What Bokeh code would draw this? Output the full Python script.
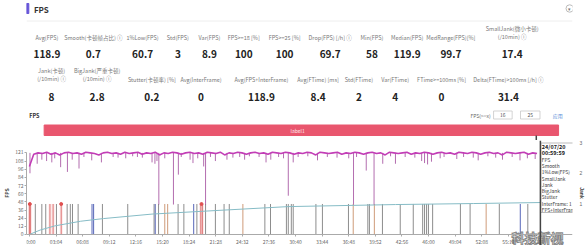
from bokeh.plotting import figure
from bokeh.models import Range1d, LinearAxis, FixedTicker, Span
from bokeh.layouts import column
from bokeh.embed import file_html
from bokeh.resources import INLINE
from bokeh.core.properties import value

FONT = "Noto Sans CJK SC"

# ---------------- data ----------------
row1_labels = ["Avg(FPS)", "Smooth(卡顿帧占比) ⓘ", "1%Low(FPS)", "Std(FPS)", "Var(FPS)",
               "FPS>=18 [%]", "FPS>=25 [%]", "Drop(FPS) [/h] ⓘ", "Min(FPS)", "Median(FPS)",
               "MedRange(FPS)[%]", "SmallJank(微小卡顿)\n(/10min) ⓘ"]
row1_values = ["118.9", "0.7", "60.7", "3", "8.9", "100", "100", "69.7", "58", "119.9", "99.7", "17.4"]

row2_labels = ["Jank(卡顿)\n(/10min) ⓘ", "BigJank(严重卡顿)\n(/10min) ⓘ", "Stutter(卡顿率) [%]",
               "Avg(InterFrame)", "Avg(FPS+InterFrame)", "Avg(FTime) [ms]", "Std(FTime)",
               "Var(FTime)", "FTime>=100ms [%]", "Delta(FTime)>100ms [/h] ⓘ"]
row2_values = ["8", "2.8", "0.2", "0", "118.9", "8.4", "2", "4", "0", "31.4"]

tick_secs = [0, 184, 368, 552, 736, 920, 1104, 1288, 1472, 1656, 1840, 2024, 2208, 2392,
             2576, 2760, 2944, 3128, 3312, 3496]
tick_labels = ["00:00", "03:04", "06:08", "09:12", "12:16", "15:20", "18:24", "21:28", "24:32",
               "27:36", "30:40", "33:44", "36:48", "39:52", "42:56", "46:00", "49:04", "52:08",
               "55:12", "58:16"]
fps_ticks = [0, 12, 24, 36, 48, 60, 72, 84, 96, 108, 121]
jank_ticks = [1, 2, 3]

fps_time = list(range(0, 3511, 30))
fps_base = [100, 118, 120, 119, 121, 118, 120, 117, 120, 121,
            119, 120, 118, 121, 120, 119, 117, 120, 121, 119,
            120, 118, 121, 119, 120, 121, 118, 120, 119, 121,
            117, 120, 119, 121, 120, 118, 120, 121, 119, 120,
            118, 121, 120, 119, 121, 117, 120, 119, 121, 120,
            118, 120, 121, 119, 120, 118, 121, 120, 119, 121,
            120, 118, 120, 119, 121, 120, 117, 121, 120, 119,
            120, 121, 118, 120, 119, 121, 120, 118, 120, 121,
            119, 120, 117, 121, 120, 119, 120, 121, 118, 120,
            119, 121, 120, 118, 120, 121, 119, 120, 118, 121,
            120, 119, 121, 120, 118, 120, 121, 119, 120, 117,
            121, 120, 119, 120, 121, 118, 120, 119]

dip_t = [4, 54, 86, 119, 155, 175, 216, 263, 296, 343, 377, 431, 498, 579, 613, 666, 714, 747,
         781, 848, 868, 882, 895, 936, 996, 1030, 1050, 1111, 1131, 1164, 1205, 1218, 1252,
         1286, 1366, 1407, 1454, 1488, 1521, 1588, 1636, 1669, 1723, 1757, 1790, 1824, 1858,
         1925, 1992, 2060, 2127, 2208, 2241, 2262, 2329, 2383, 2443, 2497, 2531, 2598, 2665,
         2712, 2732, 2753, 2780, 2840, 2867, 2955, 3002, 3069, 3103, 3170, 3224, 3271, 3338,
         3392, 3443, 3497]
dip_v = [90, 104, 110, 108, 106, 112, 99, 92, 110, 97, 114, 109, 106, 114, 113, 112, 115, 114,
         113, 106, 104, 108, 44, 112, 44, 88, 114, 110, 105, 112, 100, 44, 114,
         108, 110, 113, 114, 110, 115, 114, 106, 110, 114, 112, 57, 106, 114,
         115, 109, 114, 113, 112, 44, 114, 94, 44, 104, 115, 104, 114, 113,
         108, 105, 103, 107, 112, 114, 111, 114, 113, 109, 115, 113, 110, 114,
         109, 112, 111]

jank_gray_t = [41, 86, 113, 187, 261, 283, 298, 337, 505, 680, 862, 893, 1028, 1068, 1158,
               1218, 1286, 1346, 1382, 1628, 1667, 1777, 1790, 1811, 1824, 1981, 2026, 2206,
               2340, 2351, 2441, 2564, 2654, 2719, 2732, 2746, 2759, 2788, 2980, 3047, 3249, 3446]
jank_red_t = [0, 7, 142, 164, 220, 1185, 1196]
jank_blue_t = [433, 444, 870, 1136, 3394]
jank_orange_t = [936, 956, 1476, 2239, 2385, 3158]
bigjank_t = [3, 220, 1190]

rise_t = [0, 74, 175, 355, 512, 848, 1185, 1790, 2531, 3069, 3540]
rise_v = [0, 6.5, 12.6, 19.5, 23.4, 30, 34, 41, 44, 45.5, 47]

cursor_t = 3533
tooltip_lines = ["24/07/20", "00:59:59", "FPS", "Smooth", "1%Low(FPS)", "SmallJank", "Jank",
                 "BigJank", "Stutter", "InterFrame: 1", "FPS+InterFrame"]

# ---------------- top panel ----------------
top = figure(width=588, height=140, x_range=Range1d(0, 588), y_range=Range1d(140, 0),
             toolbar_location=None, output_backend="svg", min_border=0,
             x_axis_location=None, y_axis_location=None)
top.grid.visible = False
top.outline_line_color = None

top.quad(left=[0], right=[2.5], top=[3], bottom=[13], color="#6655d8")
top.text(x=[8], y=[8.5], text=["FPS"], text_font=value(FONT), text_font_style="bold",
         text_font_size="8px", text_color="#333", text_baseline="middle")
top.segment(x0=[0], y0=[20.5], x1=[588], y1=[20.5], line_color="#eeeeee", line_width=1)
top.circle(x=[585], y=[8], radius=4, fill_color="white", line_color="#bbb")
top.text(x=[585], y=[8.5], text=["▾"], text_font_size="5px", text_color="#777",
         text_align="center", text_baseline="middle")

row1_x = [22, 72, 125, 163, 197, 234, 278, 327, 372, 410, 457, 523]
row2_x = [27, 76, 135, 188, 253, 314, 358, 397, 447, 519]

top.text(x=row1_x, y=[41] * len(row1_x), text=row1_labels, text_font=value(FONT),
         text_font_size="5.5px", text_color="#777", text_align="center",
         text_baseline="bottom", text_line_height=1.1)
top.text(x=row1_x, y=[53.5] * len(row1_x), text=row1_values, text_font=value(FONT),
         text_font_style="bold", text_font_size="10px", text_color="#222",
         text_align="center", text_baseline="middle")
top.text(x=row2_x, y=[83] * len(row2_x), text=row2_labels, text_font=value(FONT),
         text_font_size="5.5px", text_color="#777", text_align="center",
         text_baseline="bottom", text_line_height=1.1)
top.text(x=row2_x, y=[96] * len(row2_x), text=row2_values, text_font=value(FONT),
         text_font_style="bold", text_font_size="10px", text_color="#222",
         text_align="center", text_baseline="middle")

top.text(x=[3], y=[115], text=["FPS"], text_font=value(FONT), text_font_style="bold",
         text_font_size="5.5px", text_color="#333", text_baseline="middle")
top.text(x=[500], y=[114.5], text=["FPS(>=x)"], text_font=value(FONT), text_font_size="5px",
         text_color="#666", text_align="right", text_baseline="middle")
top.quad(left=[503, 532], right=[523, 553], top=[110.5, 110.5], bottom=[118.5, 118.5],
         fill_color="white", line_color="#c8c8c8", line_width=0.8)
top.text(x=[513, 542.5], y=[114.5, 114.5], text=["16", "25"], text_font=value(FONT),
         text_font_size="5px", text_color="#555", text_align="center", text_baseline="middle")
top.text(x=[572], y=[114.5], text=["应用"], text_font=value(FONT), text_font_size="5px",
         text_color="#5b8fd9", text_align="center", text_baseline="middle")

top.quad(left=[19], right=[573], top=[124.5], bottom=[135], color="#e9566e")
top.text(x=[292], y=[130], text=["label1"], text_font=value(FONT), text_font_size="5px",
         text_color="#fde8ec", text_align="center", text_baseline="middle")
top.segment(x0=[549], y0=[135], x1=[549], y1=[140], line_color="#444", line_width=1.5)

# ---------------- chart ----------------
p = figure(width=588, height=105, x_range=Range1d(-20, 3755), y_range=Range1d(-16.2, 138.2),
           toolbar_location=None, output_backend="svg", min_border_left=21,
           min_border_right=6, min_border_top=0, min_border_bottom=0)
p.extra_y_ranges = {"jank": Range1d(-0.36, 3.08), "px": Range1d(245, 140)}
p.extra_x_ranges = {"px": Range1d(21, 582)}
p.grid.visible = False
p.outline_line_color = None

p.xaxis.fixed_location = 0
p.xaxis.ticker = FixedTicker(ticks=tick_secs)
p.xaxis.major_label_overrides = dict(zip(tick_secs, tick_labels))
p.xaxis.major_label_text_font_size = "5px"
p.xaxis.major_label_text_color = "#666"
p.xaxis.major_label_text_font = FONT
p.xaxis.axis_line_color = "#aaa"
p.xaxis.major_tick_line_color = "#aaa"
p.xaxis.major_tick_in = 0
p.xaxis.major_tick_out = 2
p.xaxis.minor_tick_line_color = None
p.xaxis.major_label_standoff = 2

p.yaxis.ticker = FixedTicker(ticks=fps_ticks)
p.yaxis.bounds = (0, 121)
p.yaxis.axis_label = "FPS"
p.yaxis.axis_label_text_font_size = "5px"
p.yaxis.axis_label_text_font_style = "bold"
p.yaxis.axis_label_text_font = FONT
p.yaxis.axis_label_standoff = 2
p.yaxis.major_label_text_font_size = "5px"
p.yaxis.major_label_text_color = "#666"
p.yaxis.major_label_text_font = FONT
p.yaxis.axis_line_color = "#aaa"
p.yaxis.major_tick_line_color = "#aaa"
p.yaxis.major_tick_in = 0
p.yaxis.major_tick_out = 2
p.yaxis.minor_tick_line_color = None
p.yaxis.major_label_standoff = 1

ax_r = LinearAxis(y_range_name="jank", ticker=FixedTicker(ticks=jank_ticks), bounds=(0, 3),
                  axis_label="Jank", axis_label_text_font_size="5px",
                  axis_label_text_font_style="bold", axis_label_standoff=-6,
                  major_label_text_font_size="5px", major_label_text_color="#666",
                  axis_line_color=None, major_tick_line_color=None,
                  minor_tick_line_color=None, major_label_standoff=1)
p.add_layout(ax_r, "right")

# jank bars
p.segment(x0=jank_red_t, y0=0, x1=jank_red_t, y1=1, y_range_name="jank",
          line_color="#f4b0b0", line_width=3, line_alpha=0.3)
p.segment(x0=jank_gray_t, y0=0, x1=jank_gray_t, y1=1, y_range_name="jank",
          line_color="#707070", line_width=0.8)
p.segment(x0=jank_blue_t, y0=0, x1=jank_blue_t, y1=1, y_range_name="jank",
          line_color="#4455b0", line_width=0.9)
p.segment(x0=jank_orange_t, y0=0, x1=jank_orange_t, y1=1, y_range_name="jank",
          line_color="#c9906a", line_width=0.9)
p.segment(x0=jank_red_t, y0=0, x1=jank_red_t, y1=1, y_range_name="jank",
          line_color="#d65a5a", line_width=0.8)
p.scatter(x=bigjank_t, y=[1] * len(bigjank_t), y_range_name="jank", size=3,
          fill_color="#e05050", line_color="#e05050")

# rising line
p.line(rise_t, rise_v, line_color="#86bcc6", line_width=1)

# FPS line and dips
base_top = sorted(fps_base)[len(fps_base) // 2]
p.segment(x0=dip_t, y0=[base_top] * len(dip_t), x1=dip_t, y1=dip_v,
          line_color="#a0489a", line_width=0.8)
p.line(fps_time, fps_base, line_color="#c23db6", line_width=1.6)

p.add_layout(Span(location=cursor_t, dimension="height", line_color="#444", line_width=1.5))

# tooltip
p.quad(left=[549.5], right=[584], top=[142.5], bottom=[212], x_range_name="px",
       y_range_name="px", fill_color="white", fill_alpha=0.92, line_color="#aaa",
       line_width=0.8)
tip_y = [146 + 6.3 * i for i in range(len(tooltip_lines))]
p.text(x=[550.5] * 2, y=tip_y[:2], text=tooltip_lines[:2], x_range_name="px",
       y_range_name="px", text_font=value(FONT), text_font_style="bold",
       text_font_size="5.5px", text_color="#222", text_baseline="middle")
p.text(x=[550.5] * (len(tooltip_lines) - 2), y=tip_y[2:], text=tooltip_lines[2:],
       x_range_name="px", y_range_name="px", text_font=value(FONT),
       text_font_size="4.8px", text_color="#333", text_baseline="middle")

# watermark
p.text(x=[546], y=[236.5], text=["科技新视"], x_range_name="px", y_range_name="px",
       text_font=value(FONT), text_font_style="bold", text_font_size="13px",
       text_color="white", text_alpha=0.9, text_outline_color="#777",
       text_align="center", text_baseline="middle")

# ---------------- slider ----------------
sl = figure(width=588, height=5, x_range=Range1d(0, 588), y_range=Range1d(5, 0),
            toolbar_location=None, output_backend="svg", min_border=0,
            x_axis_location=None, y_axis_location=None)
sl.grid.visible = False
sl.outline_line_color = None
sl.quad(left=[22], right=[575], top=[1], bottom=[5], color="#3c9ff0")
sl.quad(left=[20], right=[25.5], top=[0.5], bottom=[5], fill_color="#f0f0f0", line_color="#999",
        line_width=0.6)

layout = column(top, p, sl, spacing=0)
open("out.html", "w").write(file_html(layout, INLINE))
